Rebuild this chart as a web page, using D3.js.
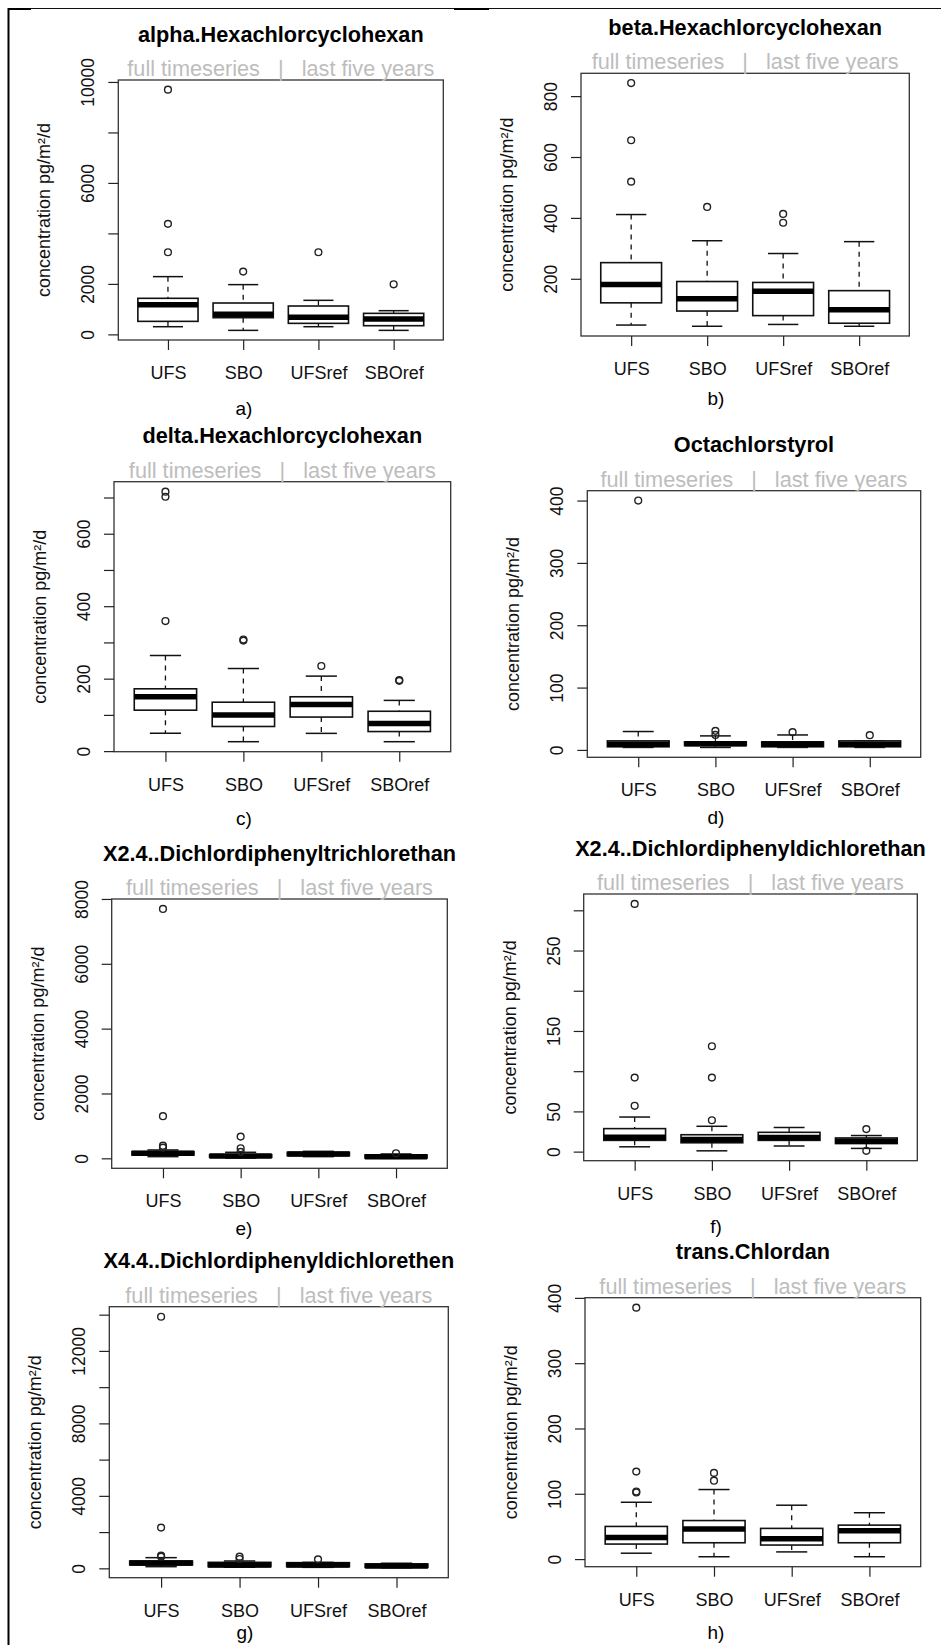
<!DOCTYPE html>
<html>
<head>
<meta charset="utf-8">
<script src="https://cdn.jsdelivr.net/npm/d3@7"></script>
<style>
  html, body { margin: 0; padding: 0; background: #fff; }
  svg text { font-family: "Liberation Sans", Arial, Helvetica, sans-serif; }
</style>
</head>
<body>
<svg id="chart" width="941" height="1645"></svg>
<script>
// ---------------- data ----------------
const categories = ["UFS", "SBO", "UFSref", "SBOref"];
const titles = [
  "alpha.Hexachlorcyclohexan", "beta.Hexachlorcyclohexan",
  "delta.Hexachlorcyclohexan", "Octachlorstyrol",
  "X2.4..Dichlordiphenyltrichlorethan", "X2.4..Dichlordiphenyldichlorethan",
  "X4.4..Dichlordiphenyldichlorethen", "trans.Chlordan"
];
const captions = ["a)", "b)", "c)", "d)", "e)", "f)", "g)", "h)"];
const subtitle = "full timeseries   |   last five years";
const yAxisTitle = "concentration pg/m\u00B2/d";

// box stats per category: [lower whisker, Q1, median, Q3, upper whisker]
const alphaStats = [[304, 516, 1177, 1429, 2288], [159, 661, 794, 1243, 1971], [304, 437, 675, 1124, 1349], [159, 344, 608, 833, 939]];
const alphaOut = [[3254, 4378, 9696], [2487], [3254], [1984]];
const alphaTicks = [0, 2000, 4000, 6000, 8000, 10000];
const alphaTickLabels = ["0", "2000", "", "6000", "", "10000"];

const betaStats = [[48, 121, 181, 253, 411], [44, 94, 134, 191, 325], [50, 79, 159, 188, 283], [44, 54, 98, 161, 322]];
const betaOut = [[519, 655, 843], [436], [384, 413], []];
const betaTicks = [200, 400, 600, 800];
const betaTickLabels = ["200", "400", "600", "800"];

const deltaStats = [[49, 113, 150, 172, 264], [26, 68, 100, 135, 228], [49, 94, 129, 150, 207], [26, 54, 76, 110, 140]];
const deltaOut = [[359, 702, 716], [305, 308], [235], [194, 196]];
const deltaTicks = [0, 100, 200, 300, 400, 500, 600, 700];
const deltaTickLabels = ["0", "", "200", "", "400", "", "600", ""];

const octaStats = [[4, 5, 9, 14.5, 29.5], [4, 7, 10, 13, 22.5], [4, 5, 9, 13, 24], [4, 5, 9, 14.5, 14.5]];
const octaOut = [[400], [24, 30.6], [28.5], [23.6]];
const octaTicks = [0, 100, 200, 300, 400];
const octaTickLabels = ["0", "100", "200", "300", "400"];

const ddtStats = [[52, 103, 155, 206, 258], [10, 31, 72, 113, 186], [52, 82, 134, 186, 216], [0, 10, 52, 103, 134]];
const ddtOut = [[330, 390, 1299, 7691], [200, 310, 670], [], [155]];
const ddtTicks = [0, 2000, 4000, 6000, 8000];
const ddtTickLabels = ["0", "2000", "4000", "6000", "8000"];

const dddStats = [[6, 14, 18, 28.6, 43], [1, 11, 15, 21, 31.5], [7, 14, 17.5, 24, 30], [4, 10, 13, 17, 20]];
const dddOut = [[57, 92, 308], [39, 92, 131], [], [1, 28]];
const dddTicks = [0, 50, 100, 150, 200, 250, 300];
const dddTickLabels = ["0", "50", "", "150", "", "250", ""];

const ddeStats = [[92, 184, 295, 405, 589], [55, 92, 184, 331, 405], [55, 92, 184, 313, 331], [37, 55, 129, 239, 276]];
const ddeOut = [[645, 700, 2247, 13886], [515, 645], [497], []];
const ddeTicks = [0, 2000, 4000, 6000, 8000, 10000, 12000, 14000];
const ddeTickLabels = ["0", "", "4000", "", "8000", "", "12000", ""];

const chlordStats = [[9, 23, 33, 50, 87], [3.6, 25, 46, 59, 106.5], [11, 21.5, 31, 47, 82.5], [3.6, 25, 43.5, 52, 71]];
const chlordOut = [[102, 103.5, 134, 385], [120, 132], [], []];
const chlordTicks = [0, 100, 200, 300, 400];
const chlordTickLabels = ["0", "100", "200", "300", "400"];

// ---------------- layout ----------------
const layout = [
  { L: 118.3, R: 443.3, T: 80,    B: 340,    capX: 244, capY: 408 },
  { L: 581,   R: 909.3, T: 73.3,  B: 336,    capX: 716, capY: 398 },
  { L: 114,   R: 450.7, T: 481.7, B: 751.7,  capX: 244, capY: 818 },
  { L: 587.3, R: 920.7, T: 490.7, B: 757.3,  capX: 716, capY: 817 },
  { L: 111.7, R: 447.3, T: 899,   B: 1168.3, capX: 244, capY: 1228 },
  { L: 583.7, R: 917.3, T: 894,   B: 1160.7, capX: 716, capY: 1226.5 },
  { L: 109.3, R: 448.3, T: 1306.7,B: 1577.7, capX: 245, capY: 1632 },
  { L: 585,   R: 920.7, T: 1297.7,B: 1566.7, capX: 716, capY: 1632 }
];

const panels = [
  { stats: alphaStats, out: alphaOut, ticks: alphaTicks, labels: alphaTickLabels },
  { stats: betaStats, out: betaOut, ticks: betaTicks, labels: betaTickLabels },
  { stats: deltaStats, out: deltaOut, ticks: deltaTicks, labels: deltaTickLabels },
  { stats: octaStats, out: octaOut, ticks: octaTicks, labels: octaTickLabels },
  { stats: ddtStats, out: ddtOut, ticks: ddtTicks, labels: ddtTickLabels },
  { stats: dddStats, out: dddOut, ticks: dddTicks, labels: dddTickLabels },
  { stats: ddeStats, out: ddeOut, ticks: ddeTicks, labels: ddeTickLabels },
  { stats: chlordStats, out: chlordOut, ticks: chlordTicks, labels: chlordTickLabels }
];

const svg = d3.select("#chart");
svg.append("rect").attr("width", 941).attr("height", 1645).attr("fill", "#fff");

// page frame (document border)
svg.append("line").attr("x1", 8).attr("x2", 941).attr("y1", 8.5).attr("y2", 8.5)
  .attr("stroke", "#111").attr("stroke-width", 1);
svg.append("line").attr("x1", 8).attr("x2", 31).attr("y1", 9).attr("y2", 9)
  .attr("stroke", "#000").attr("stroke-width", 2);
svg.append("line").attr("x1", 454).attr("x2", 489).attr("y1", 9).attr("y2", 9)
  .attr("stroke", "#000").attr("stroke-width", 2);
svg.append("line").attr("x1", 8.5).attr("x2", 8.5).attr("y1", 8).attr("y2", 1645)
  .attr("stroke", "#000").attr("stroke-width", 2);

panels.forEach((p, k) => {
  const lay = layout[k];
  const g = svg.append("g");
  const x = d3.scaleLinear().domain([0.34, 4.66]).range([lay.L, lay.R]);
  const all = [];
  p.stats.forEach(s => all.push(...s));
  p.out.forEach(o => all.push(...o));
  const mn = d3.min(all), mx = d3.max(all);
  const pad = 0.04 * (mx - mn);
  const y = d3.scaleLinear().domain([mn - pad, mx + pad]).range([lay.B, lay.T]);

  const step = x(2) - x(1);
  const bw = 0.8 * step;

  p.stats.forEach((s, i) => {
    const cx = x(i + 1);
    const [lo, q1, md, q3, hi] = s;
    // whiskers (dashed)
    g.append("line").attr("x1", cx).attr("x2", cx).attr("y1", y(hi)).attr("y2", y(q3))
      .attr("stroke", "#111").attr("stroke-width", 1.3).attr("stroke-dasharray", "5,5");
    g.append("line").attr("x1", cx).attr("x2", cx).attr("y1", y(q1)).attr("y2", y(lo))
      .attr("stroke", "#111").attr("stroke-width", 1.3).attr("stroke-dasharray", "5,5");
    // staples
    [lo, hi].forEach(v => {
      g.append("line").attr("x1", cx - bw / 4).attr("x2", cx + bw / 4)
        .attr("y1", y(v)).attr("y2", y(v))
        .attr("stroke", "#111").attr("stroke-width", 1.5);
    });
    // box
    g.append("rect").attr("x", cx - bw / 2).attr("width", bw)
      .attr("y", y(q3)).attr("height", Math.max(0, y(q1) - y(q3)))
      .attr("fill", "#fff").attr("stroke", "#111").attr("stroke-width", 1.6);
    // median
    g.append("line").attr("x1", cx - bw / 2).attr("x2", cx + bw / 2)
      .attr("y1", y(md)).attr("y2", y(md))
      .attr("stroke", "#000").attr("stroke-width", 5.5);
    // outliers
    p.out[i].forEach(v => {
      g.append("circle").attr("cx", cx).attr("cy", y(v)).attr("r", 3.4)
        .attr("fill", "none").attr("stroke", "#222").attr("stroke-width", 1.4);
    });
  });

  // plot frame
  g.append("rect").attr("x", lay.L).attr("y", lay.T)
    .attr("width", lay.R - lay.L).attr("height", lay.B - lay.T)
    .attr("fill", "none").attr("stroke", "#333").attr("stroke-width", 1.3);

  // y axis
  const ya = g.append("g").attr("transform", `translate(${lay.L},0)`)
    .call(d3.axisLeft(y).tickValues(p.ticks).tickFormat((d, i) => p.labels[i]).tickSize(10));
  ya.select(".domain").remove();
  ya.selectAll(".tick line").attr("stroke", "#222").attr("stroke-width", 1.2);
  ya.selectAll(".tick text")
    .attr("transform", "rotate(-90)")
    .attr("x", 0).attr("y", -24).attr("dy", null)
    .attr("text-anchor", "middle")
    .attr("fill", "#111")
    .style("font-size", "17.5px")
    .style("font-family", "'Liberation Sans', Arial, sans-serif");

  // x axis
  const xa = g.append("g").attr("transform", `translate(0,${lay.B})`)
    .call(d3.axisBottom(x).tickValues([1, 2, 3, 4]).tickFormat(d => categories[d - 1]).tickSize(10));
  xa.select(".domain").remove();
  xa.selectAll(".tick line").attr("stroke", "#222").attr("stroke-width", 1.2);
  xa.selectAll(".tick text")
    .attr("y", 39).attr("dy", null)
    .attr("fill", "#111")
    .style("font-size", "18px")
    .style("font-family", "'Liberation Sans', Arial, sans-serif");

  const mid = (lay.L + lay.R) / 2;
  // title
  g.append("text").attr("x", mid).attr("y", lay.T - 38.5)
    .attr("text-anchor", "middle").attr("font-weight", "bold")
    .attr("font-size", "21.7px").attr("fill", "#000").text(titles[k]);
  // subtitle
  g.append("text").attr("x", mid).attr("y", lay.T - 4)
    .attr("text-anchor", "middle").attr("font-size", "21.7px")
    .attr("fill", "#bdbdbd").style("white-space", "pre").text(subtitle);
  // y axis title
  g.append("text")
    .attr("transform", `translate(${lay.L - 68},${(lay.T + lay.B) / 2}) rotate(-90)`)
    .attr("text-anchor", "middle").attr("font-size", "18px").attr("fill", "#111")
    .text(yAxisTitle);
  // caption
  g.append("text").attr("x", lay.capX).attr("y", lay.capY + 6.5)
    .attr("text-anchor", "middle").attr("font-size", "19px").attr("fill", "#000")
    .text(captions[k]);
});
</script>
</body>
</html>
